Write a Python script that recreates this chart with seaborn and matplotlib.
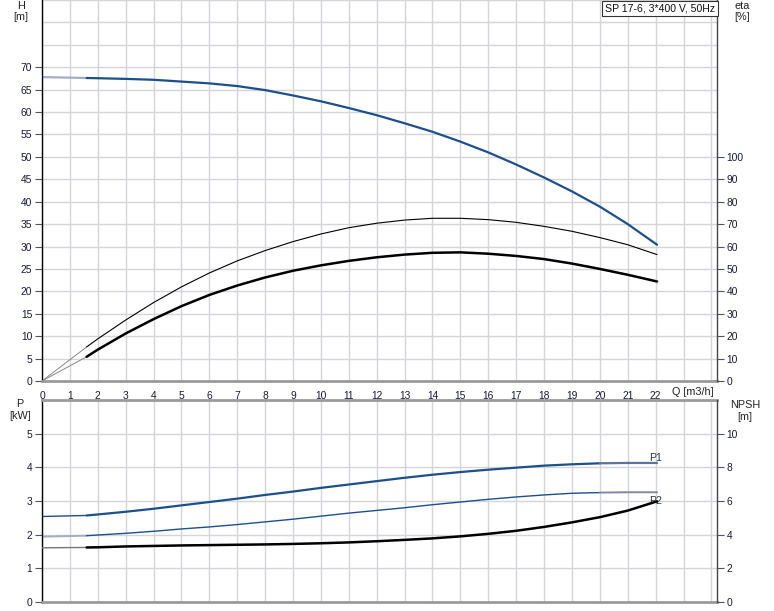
"""Pump curve sheet - SP 17-6, 3*400 V, 50Hz"""

import matplotlib
matplotlib.use('Agg')
import matplotlib.pyplot as plt
import seaborn as sns

sns.set_style('white')
plt.rcParams['font.family'] = ['Liberation Sans', 'DejaVu Sans']

# flow points along the drawn curves [m3/h]
q = [1.6, 2, 3, 4, 5, 6, 7, 8, 9, 10, 11, 12, 13, 14, 15, 16, 17, 18, 19, 20, 21, 22.05]
q_start = [0, 1.6]

# head [m]
head = [67.6, 67.55, 67.4, 67.2, 66.8, 66.4, 65.8, 64.9, 63.7, 62.4, 60.9, 59.3,
        57.5, 55.6, 53.4, 51.0, 48.3, 45.4, 42.3, 38.9, 35.0, 30.4]
head_start = [67.8, 67.6]

# efficiency [%]
eta_pump = [15.2, 18.8, 27.2, 35.0, 42.0, 48.2, 53.6, 58.2, 62.2, 65.6, 68.4, 70.4,
            71.8, 72.6, 72.6, 72.0, 70.8, 69.0, 66.8, 64.0, 60.8, 56.4]
eta_total = [10.8, 14.0, 21.2, 27.6, 33.4, 38.4, 42.6, 46.2, 49.2, 51.6, 53.6, 55.2,
             56.4, 57.2, 57.4, 56.8, 55.8, 54.4, 52.4, 50.0, 47.4, 44.4]
eta_pump_start = [0, 15.2]
eta_total_start = [0, 10.8]

# power [kW]
p1 = [2.57, 2.60, 2.68, 2.77, 2.87, 2.97, 3.07, 3.18, 3.28, 3.39, 3.49, 3.59,
      3.69, 3.78, 3.86, 3.93, 3.99, 4.05, 4.09, 4.12, 4.13, 4.13]
p2 = [1.97, 1.99, 2.04, 2.10, 2.17, 2.23, 2.30, 2.38, 2.46, 2.55, 2.64, 2.72,
      2.80, 2.89, 2.97, 3.05, 3.12, 3.18, 3.23, 3.25, 3.26, 3.26]
p1_start = [2.54, 2.57]
p2_start = [1.94, 1.97]

# NPSH [m]
npsh = [3.24, 3.25, 3.30, 3.33, 3.36, 3.38, 3.40, 3.42, 3.45, 3.49, 3.54, 3.61,
        3.69, 3.78, 3.90, 4.05, 4.23, 4.46, 4.73, 5.04, 5.43, 5.98]
npsh_start = [3.22, 3.24]

q_ticks = list(range(0, 23))
h_ticks = list(range(0, 75, 5))
eta_ticks = list(range(0, 110, 10))
p_ticks = list(range(0, 6))
npsh_ticks = list(range(0, 12, 2))

BLUE = '#1c4f8c'
LIGHT = '#a3aec2'
GRID = '#d3d6d9'
TXT = '#1a1a33'
FS = 7.4


def line(ax, x, y, color, lw):
    sns.lineplot(x=x, y=y, ax=ax, color=color, linewidth=lw, sort=False,
                 legend=False, estimator=None)


def style_axes(ax, twin, ylim, tylim, left_ticks, right_ticks, grid_extra):
    ax.set_xlim(0, 24.2)
    ax.set_ylim(*ylim)
    twin.set_ylim(*tylim)
    ax.set_yticks(left_ticks)
    ax.set_yticks(grid_extra, minor=True)
    ax.set_xticks(q_ticks)
    ax.set_xticks([23, 24], minor=True)
    twin.set_yticks(right_ticks)
    ax.grid(True, which='both', color=GRID, linewidth=1.0)
    ax.set_axisbelow(True)
    ax.tick_params(which='major', direction='out', length=5, width=0.8,
                   color='#555555', labelsize=FS, labelcolor=TXT, pad=2)
    ax.tick_params(which='minor', length=0)
    ax.tick_params(axis='x', color='#999999')
    twin.tick_params(direction='out', length=5, width=0.8, color='#555555',
                     labelsize=FS, labelcolor=TXT, pad=2)
    for s in ['top', 'right']:
        ax.spines[s].set_visible(False)
    for s in ['top', 'left', 'bottom']:
        twin.spines[s].set_visible(False)
    ax.spines['left'].set_color('black')
    ax.spines['left'].set_linewidth(1.0)
    ax.spines['bottom'].set_color('#9a9a9a')
    ax.spines['bottom'].set_linewidth(2.0)
    twin.spines['right'].set_color('#444444')
    twin.spines['right'].set_linewidth(1.0)
    ax.set_xlabel('')
    ax.set_ylabel('')
    twin.set_ylabel('')


def main():
    fig = plt.figure(figsize=(7.74, 6.11), dpi=100)
    W, H = 774, 611
    ax1 = fig.add_axes([42 / W, 1 - 381 / H, (717 - 42) / W, 381 / H])
    ax1t = ax1.twinx()
    ax2 = fig.add_axes([42 / W, 1 - 602 / H, (717 - 42) / W, (602 - 400) / H])
    ax2t = ax2.twinx()

    # top panel: head and efficiency
    line(ax1, q_start, head_start, LIGHT, 1.6)
    line(ax1, q, head, BLUE, 1.6)
    line(ax1t, q_start, eta_pump_start, '#888888', 0.7)
    line(ax1t, q_start, eta_total_start, '#888888', 0.7)
    line(ax1t, q, eta_pump, 'black', 0.8)
    line(ax1t, q, eta_total, 'black', 1.8)

    # bottom panel: power and NPSH
    line(ax2, q_start, p1_start, BLUE, 1.0)
    line(ax2, q_start, p2_start, LIGHT, 1.4)
    line(ax2, q[:20], p1[:20], BLUE, 1.6)
    line(ax2, q[19:], p1[19:], '#5f7396', 1.6)
    line(ax2, q[:20], p2[:20], BLUE, 1.0)
    line(ax2, q[19:], p2[19:], '#7f8ba6', 1.4)
    line(ax2t, q_start, npsh_start, '#777777', 1.0)
    line(ax2t, q, npsh, 'black', 1.8)

    style_axes(ax1, ax1t, (0, 85), (0, 170), h_ticks, eta_ticks, [75, 80, 85])
    style_axes(ax2, ax2t, (0, 6), (0, 12), p_ticks, npsh_ticks, [6])
    ax2.set_xticklabels([])
    ax2.tick_params(axis='x', length=0)
    ax2.spines['top'].set_visible(True)
    ax2.spines['top'].set_color('#9a9a9a')
    ax2.spines['top'].set_linewidth(2.0)

    ax2.text(22.0, 4.27, 'P1', fontsize=FS + 0.2, color='#333344', ha='center', va='center')
    ax2.text(22.0, 3.0, 'P2', fontsize=FS + 0.2, color='#333344', ha='center', va='center')

    # axis titles
    def ftext(x, y, s, **kw):
        fig.text(x / W, 1 - y / H, s, fontsize=FS + 0.4, color='#222222',
                 ha='center', va='center', **kw)

    ftext(21, 6, 'H')
    ftext(21, 17, '[m]')
    ftext(742, 6, 'eta')
    ftext(742, 17, '[%]')
    ftext(20, 404, 'P')
    ftext(20, 416, '[kW]')
    ftext(745, 405, 'NPSH')
    ftext(745, 417, '[m]')
    ftext(693, 392, 'Q [m3/h]')

    fig.text(605 / W, 1 - 8.5 / H, 'SP 17-6, 3*400 V, 50Hz', fontsize=FS + 0.2,
             color='#111111', ha='left', va='center',
             bbox=dict(boxstyle='square,pad=0.25', facecolor='white',
                       edgecolor='#333333', linewidth=0.8))

    fig.savefig('out.png', dpi=100)


if __name__ == "__main__":
    main()
